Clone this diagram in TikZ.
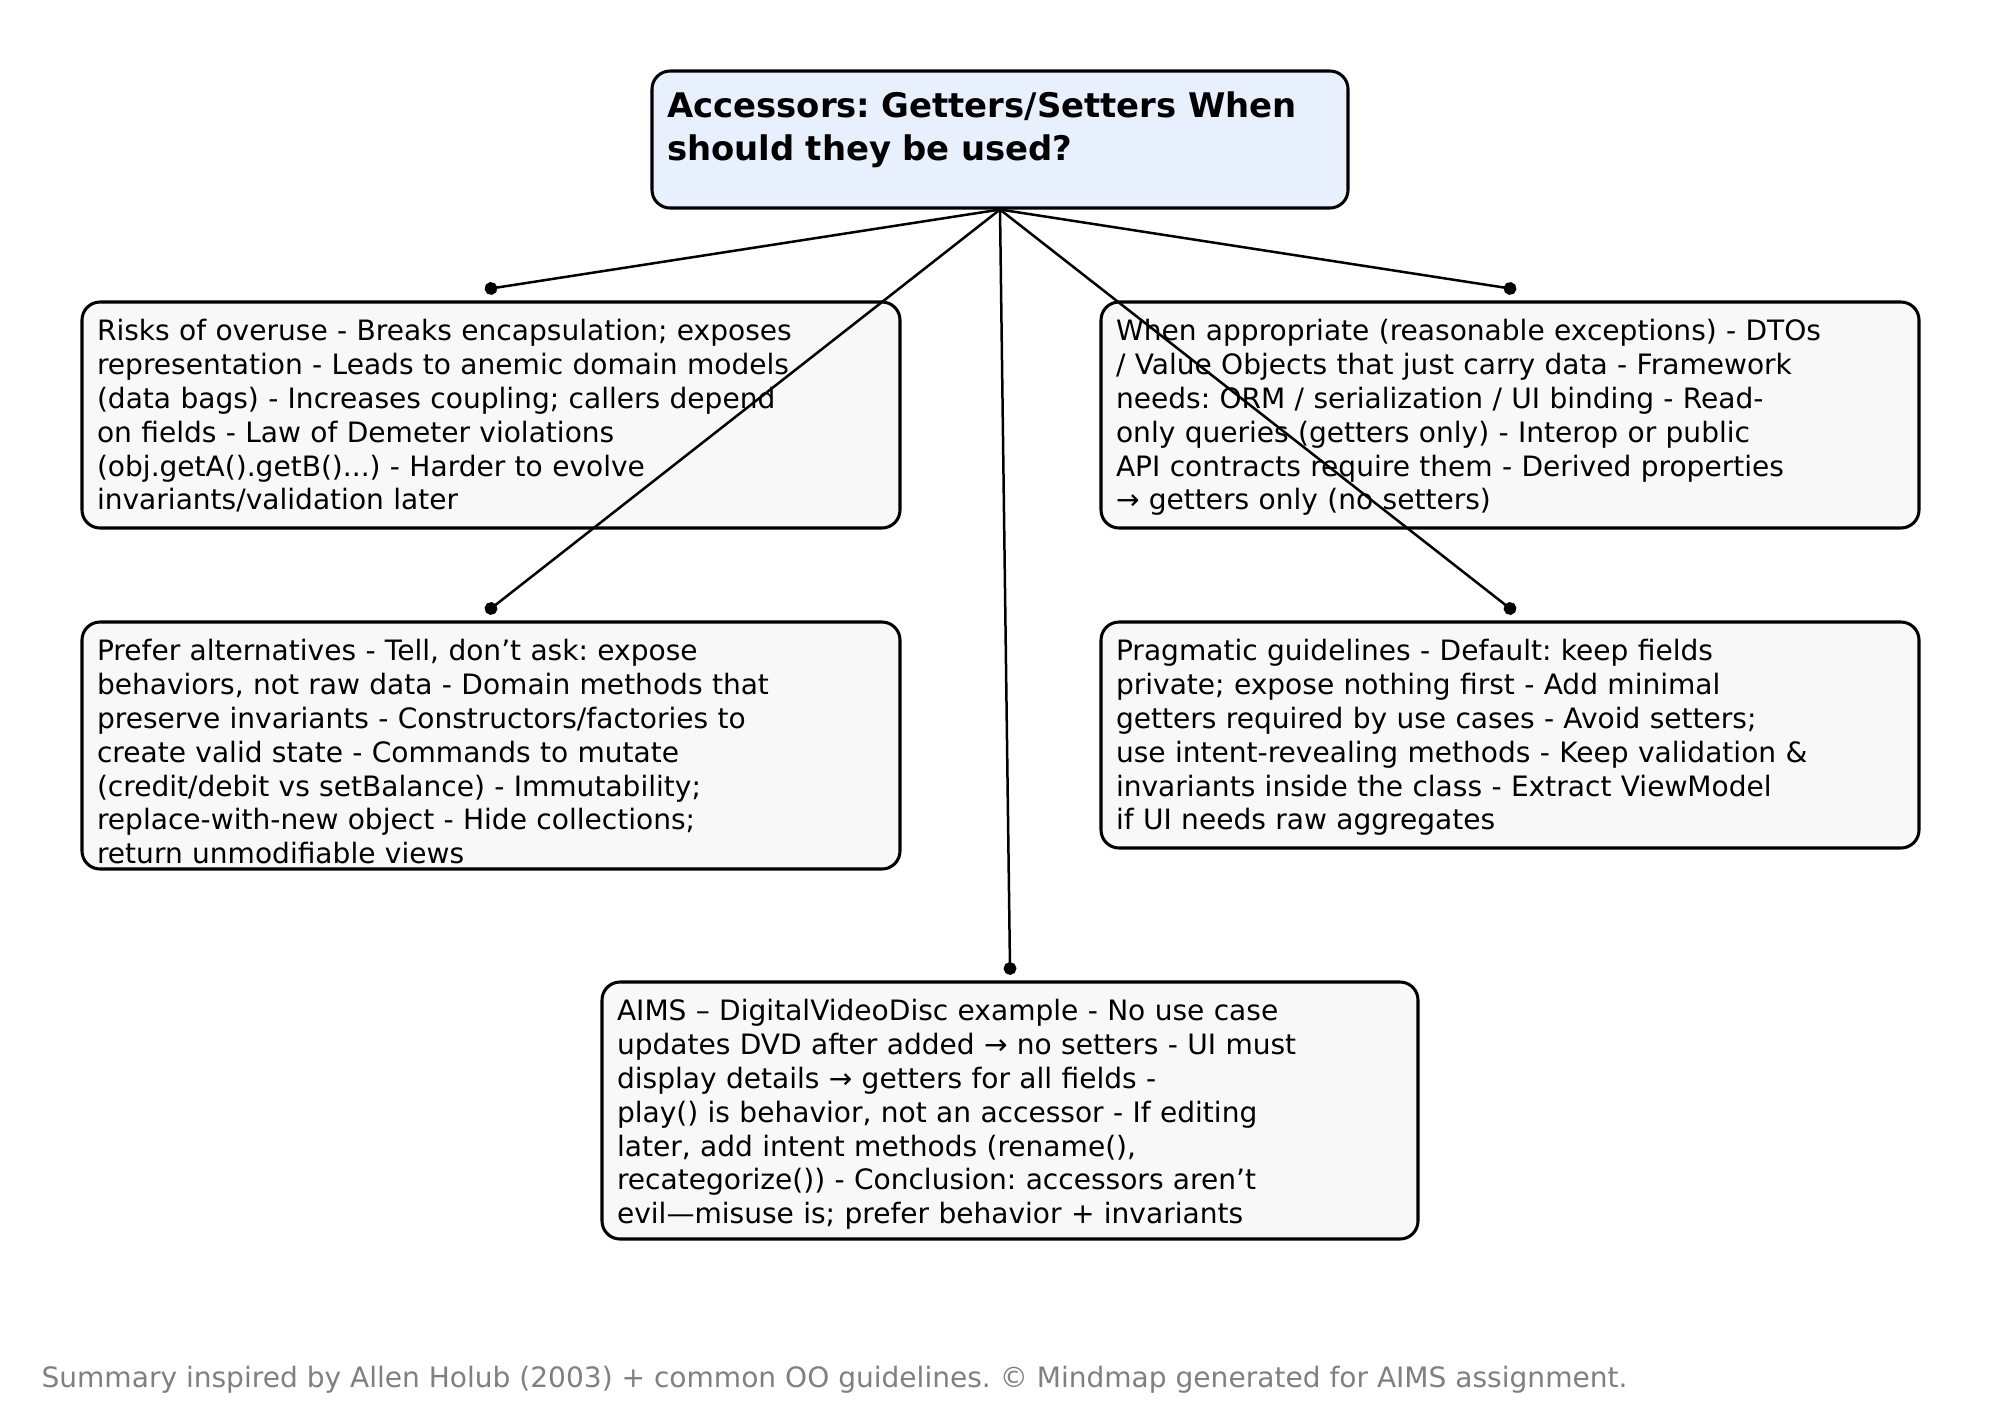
\documentclass[tikz,border=0pt]{standalone}
\usepackage{fontspec}
\setmainfont{DejaVu Sans}
\usetikzlibrary{arrows.meta,calc}
\definecolor{rootfill}{HTML}{E8F0FE}
\definecolor{boxgray}{HTML}{F8F8F8}
\definecolor{footgray}{HTML}{808080}
\frenchspacing
\begin{document}
\begin{tikzpicture}[x=0.36pt,y=-0.36pt,
  box/.style={draw=black, line width=1.1pt, rounded corners=6.5pt, fill=boxgray, inner sep=0pt},
  rootbox/.style={box, fill=rootfill},
  txt/.style={anchor=base west, inner sep=0pt, align=left, text width=300pt, font=\fontsize{10.1}{12.2}\selectfont\frenchspacing},
  roottxt/.style={anchor=base west, inner sep=0pt, align=left, text width=300pt, font=\fontsize{12.2}{15.6}\selectfont\bfseries\frenchspacing},
  link/.style={line width=0.9pt, draw=black, -{Circle[length=4.6pt]}, shorten >=-2.3pt}]
\useasboundingbox (0,0) rectangle (2000,1400);
\fill[white] (0,0) rectangle (2000,1400);

% boxes
\node[rootbox, minimum width=250.56pt, minimum height=49.32pt] (root) at (1000,139.5) {};
\node[box, minimum width=294.48pt, minimum height=81.36pt] (tl) at (491,415) {};
\node[box, minimum width=294.48pt, minimum height=81.36pt] (tr) at (1510,415) {};
\node[box, minimum width=294.48pt, minimum height=88.92pt] (ml) at (491,745.5) {};
\node[box, minimum width=294.48pt, minimum height=81.36pt] (mr) at (1510,735) {};
\node[box, minimum width=293.76pt, minimum height=92.52pt] (bt) at (1010,1110.5) {};

% texts
\node[roottxt] (roott) at ($(root.north west)+(16,48)$) {Accessors: Getters/Setters When\\should they be used?};
\node[txt] (tlt) at ($(tl.north west)+(16,40)$) {Risks of overuse - Breaks encapsulation; exposes\\representation - Leads to anemic domain models\\(data bags) - Increases coupling; callers depend\\on fields - Law of Demeter violations\\(obj.getA().getB()...) - Harder to evolve\\invariants/validation later};
\node[txt] (trt) at ($(tr.north west)+(16,40)$) {When appropriate (reasonable exceptions) - DTOs\\/ Value Objects that just carry data - Framework\\needs: ORM / serialization / UI binding - Read-\\only queries (getters only) - Interop or public\\API contracts require them - Derived properties\\→ getters only (no setters)};
\node[txt] (mlt) at ($(ml.north west)+(16,40)$) {Prefer alternatives - Tell, don’t ask: expose\\behaviors, not raw data - Domain methods that\\preserve invariants - Constructors/factories to\\create valid state - Commands to mutate\\(credit/debit vs setBalance) - Immutability;\\replace-with-new object - Hide collections;\\return unmodifiable views};
\node[txt] (mrt) at ($(mr.north west)+(16,40)$) {Pragmatic guidelines - Default: keep fields\\private; expose nothing first - Add minimal\\getters required by use cases - Avoid setters;\\use intent-revealing methods - Keep validation \&\\invariants inside the class - Extract ViewModel\\if UI needs raw aggregates};
\node[txt] (btt) at ($(bt.north west)+(16,40)$) {AIMS – DigitalVideoDisc example - No use case\\updates DVD after added → no setters - UI must\\display details → getters for all fields -\\play() is behavior, not an accessor - If editing\\later, add intent methods (rename(),\\recategorize()) - Conclusion: accessors aren’t\\evil—misuse is; prefer behavior + invariants};

% connector ends (dot centres)
\coordinate (ctl) at ($(tl.north)+(0,-12)$);
\coordinate (ctr) at ($(tr.north)+(0,-12)$);
\coordinate (cml) at ($(ml.north)+(0,-12)$);
\coordinate (cmr) at ($(mr.north)+(0,-12)$);
\coordinate (cbt) at ($(bt.north)+(0,-12)$);
\draw[link] (root.south) -- (ctl);
\draw[link] (root.south) -- (ctr);
\draw[link] (root.south) -- (cml);
\draw[link] (root.south) -- (cmr);
\draw[link] (root.south) -- (cbt);

% footer
\node[anchor=base west, inner sep=0pt, text=footgray, font=\fontsize{10.1}{12}\selectfont\frenchspacing] (foot) at (41,1387) {Summary inspired by Allen Holub (2003) + common OO guidelines. © Mindmap generated for AIMS assignment.};
\end{tikzpicture}
\end{document}
